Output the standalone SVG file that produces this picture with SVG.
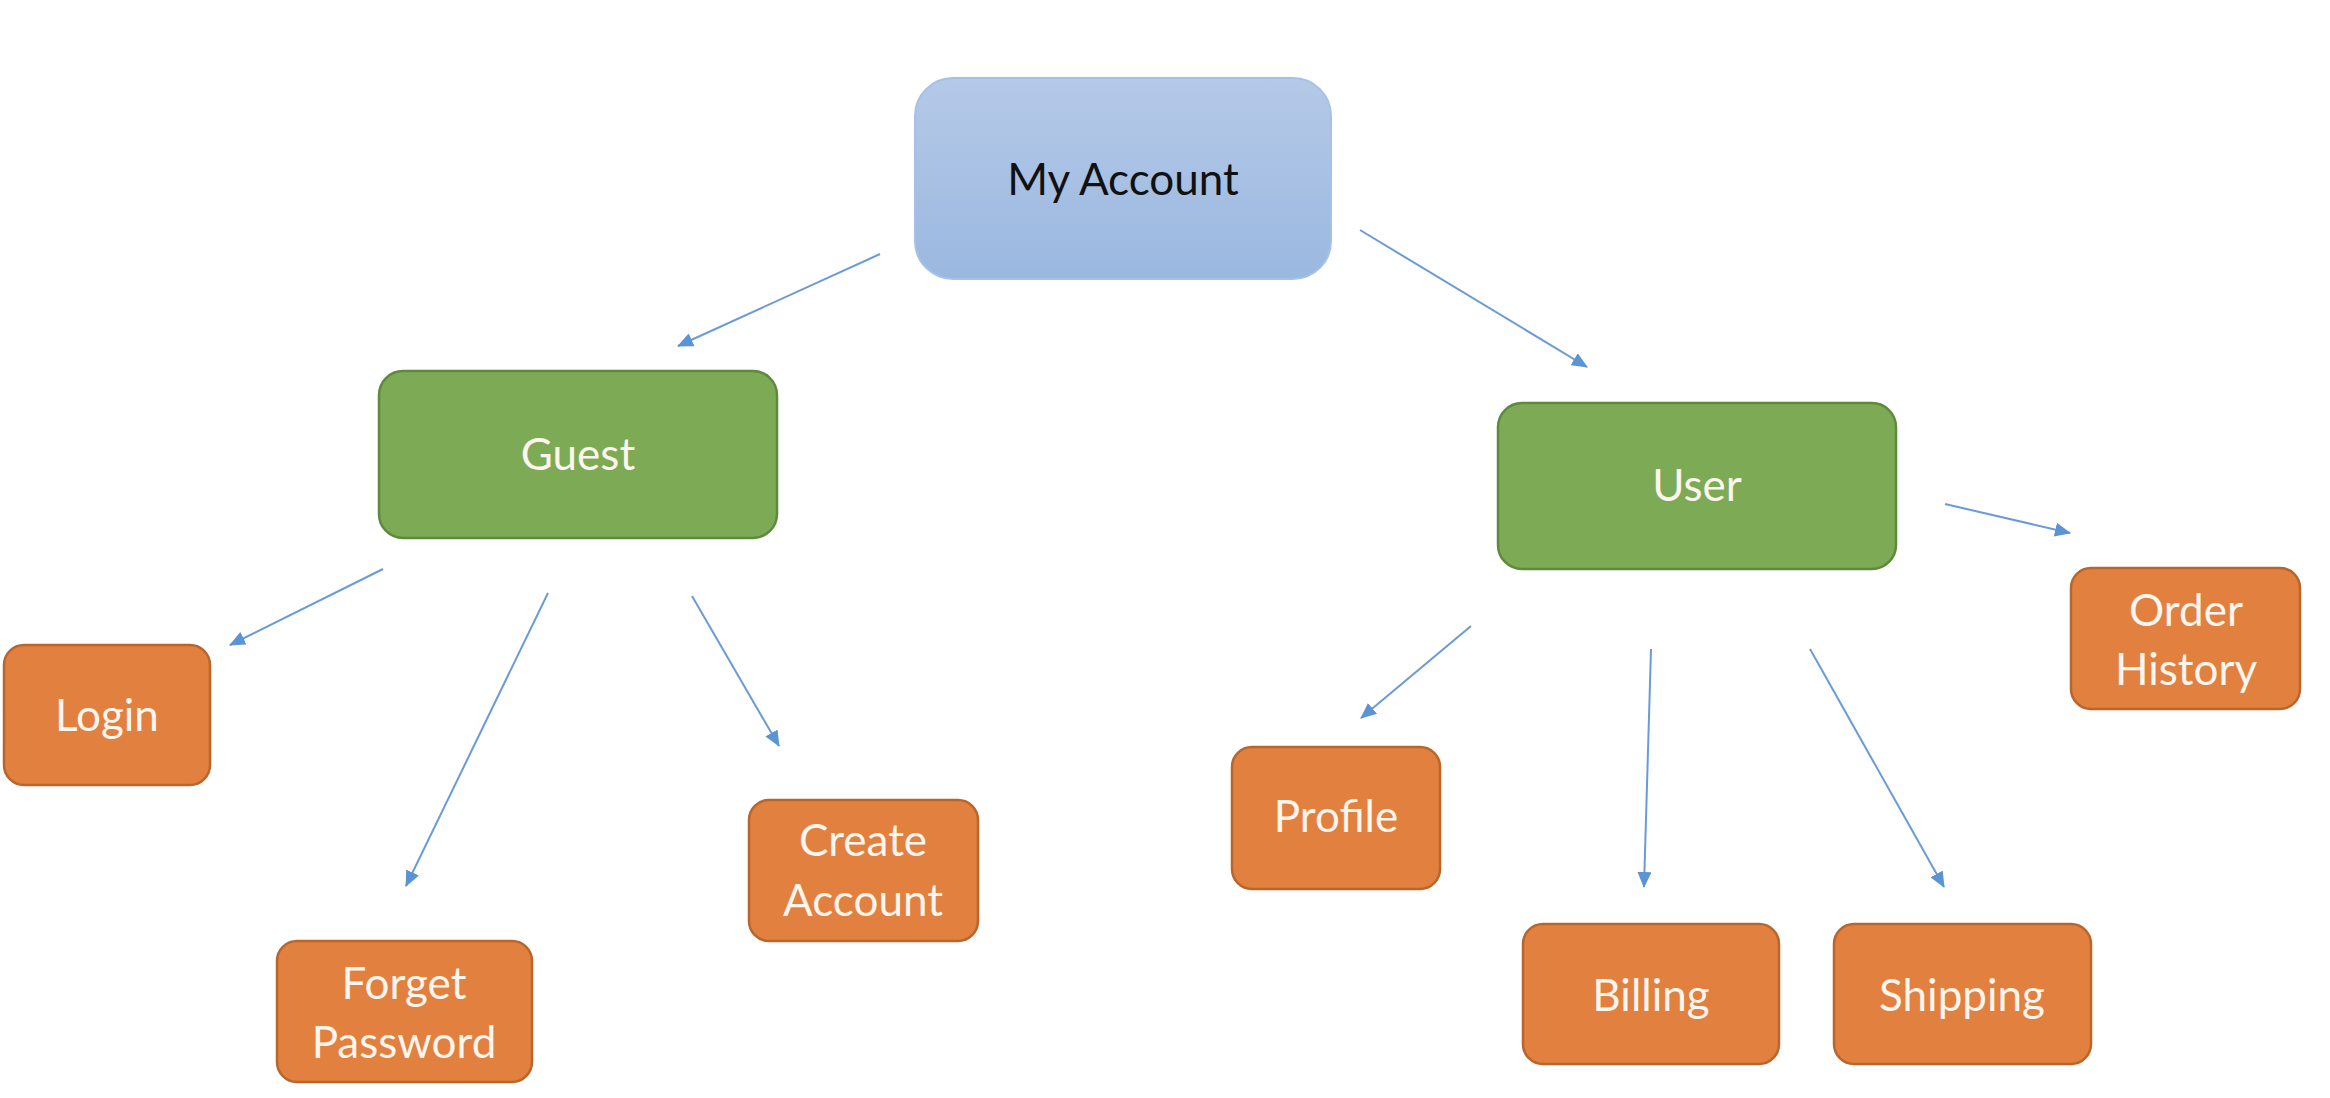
<svg xmlns="http://www.w3.org/2000/svg" width="2330" height="1098" viewBox="0 0 2330 1098">
<defs>
<linearGradient id="blueGrad" x1="0" y1="0" x2="0" y2="1">
<stop offset="0" stop-color="#b5c9e8"/>
<stop offset="1" stop-color="#9ab8e0"/>
</linearGradient>
<marker id="arrow" markerUnits="userSpaceOnUse" markerWidth="16" markerHeight="14" refX="15" refY="7" orient="auto">
<path d="M0,0 L16,7 L0,14 Z" fill="#5b93d3"/>
</marker>
<style>
.blue{fill:url(#blueGrad);stroke:#a7c1e6;stroke-width:2}
.green{fill:#7caa55;stroke:#5e8a3e;stroke-width:2.5}
.orange{fill:#e1803f;stroke:#b9652c;stroke-width:2.5}
.lbl{font-family:Lato,"Open Sans","Liberation Sans",sans-serif;font-size:44px;text-anchor:middle}
.dark{fill:#111111}
.light{fill:#fdf5ee}
.conn{stroke:#6a9bd8;stroke-width:2;fill:none;marker-end:url(#arrow)}
</style>
</defs>
<rect width="2330" height="1098" fill="#ffffff"/>
<g id="connectors">
<line class="conn" x1="880" y1="254" x2="678" y2="346"/>
<line class="conn" x1="1360" y1="230" x2="1587" y2="367"/>
<line class="conn" x1="383" y1="569" x2="230" y2="645"/>
<line class="conn" x1="548" y1="593" x2="406" y2="886"/>
<line class="conn" x1="692" y1="596" x2="779" y2="746"/>
<line class="conn" x1="1471" y1="626" x2="1361" y2="718"/>
<line class="conn" x1="1651" y1="649" x2="1644" y2="887"/>
<line class="conn" x1="1810" y1="649" x2="1944" y2="887"/>
<line class="conn" x1="1945" y1="504" x2="2070" y2="533"/>
</g>
<g id="my-account">
<rect class="blue" x="915" y="78" width="416" height="201" rx="38" ry="38"/>
<text class="lbl dark" x="1123" y="195">My Account</text>
</g>
<g id="guest">
<rect class="green" x="379" y="371" width="398" height="167" rx="24" ry="24"/>
<text class="lbl light" x="578" y="470">Guest</text>
</g>
<g id="user">
<rect class="green" x="1498" y="403" width="398" height="166" rx="24" ry="24"/>
<text class="lbl light" x="1697" y="501">User</text>
</g>
<g id="login">
<rect class="orange" x="4" y="645" width="206" height="140" rx="20" ry="20"/>
<text class="lbl light" x="107" y="731">Login</text>
</g>
<g id="forget-password">
<rect class="orange" x="277" y="941" width="255" height="141" rx="20" ry="20"/>
<text class="lbl light" x="404" y="999">Forget</text>
<text class="lbl light" x="404" y="1058">Password</text>
</g>
<g id="create-account">
<rect class="orange" x="749" y="800" width="229" height="141" rx="20" ry="20"/>
<text class="lbl light" x="863" y="856">Create</text>
<text class="lbl light" x="863" y="916">Account</text>
</g>
<g id="profile">
<rect class="orange" x="1232" y="747" width="208" height="142" rx="20" ry="20"/>
<text class="lbl light" x="1336" y="832">Profile</text>
</g>
<g id="billing">
<rect class="orange" x="1523" y="924" width="256" height="140" rx="20" ry="20"/>
<text class="lbl light" x="1651" y="1011">Billing</text>
</g>
<g id="shipping">
<rect class="orange" x="1834" y="924" width="257" height="140" rx="20" ry="20"/>
<text class="lbl light" x="1962" y="1011">Shipping</text>
</g>
<g id="order-history">
<rect class="orange" x="2071" y="568" width="229" height="141" rx="20" ry="20"/>
<text class="lbl light" x="2186" y="626">Order</text>
<text class="lbl light" x="2186" y="685">History</text>
</g>
</svg>
